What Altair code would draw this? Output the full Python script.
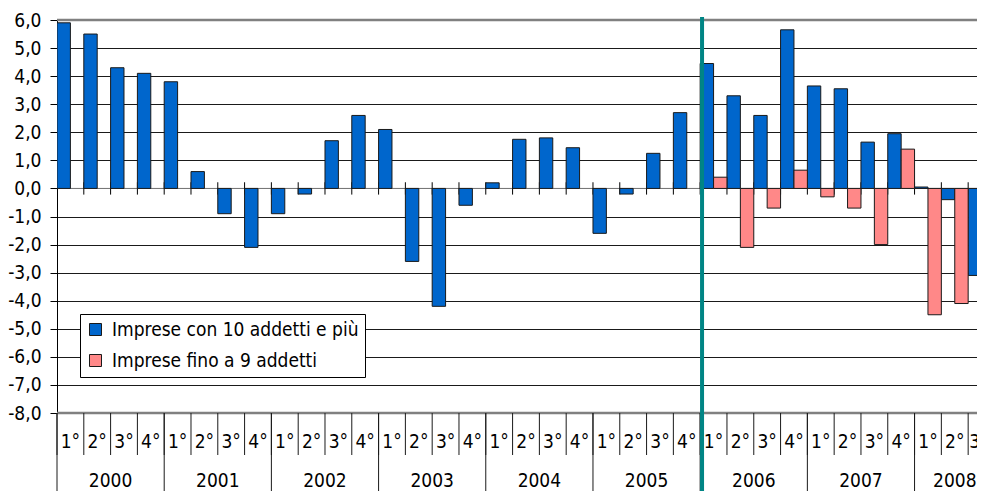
import altair as alt
import pandas as pd

# ---- data ----
years = [2000, 2001, 2002, 2003, 2004, 2005, 2006, 2007, 2008]
quarters_per_year = [4, 4, 4, 4, 4, 4, 4, 4, 3]
quarter_labels = ["1°", "2°", "3°", "4°"]
series_names = ["Imprese con 10 addetti e più", "Imprese fino a 9 addetti"]
series_colors = ["#0066CC", "#FF8888"]

big_firms = [5.9, 5.5, 4.3, 4.1,
             3.8, 0.6, -0.9, -2.1,
             -0.9, -0.2, 1.7, 2.6,
             2.1, -2.6, -4.2, -0.6,
             0.2, 1.75, 1.8, 1.45,
             -1.6, -0.2, 1.25, 2.7,
             4.45, 3.3, 2.6, 5.65,
             3.65, 3.55, 1.65, 1.95,
             0.05, -0.4, -3.1]
small_firms = [None] * 24 + [0.4, -2.1, -0.7, 0.65,
                             -0.3, -0.7, -2.0, 1.4,
                             -4.5, -4.1, -8.0]
y_ticks = list(range(-8, 7))
break_index = 24  # start of 2006

# ---- tables ----
bars = []
for i, v in enumerate(big_firms):
    bars.append({"serie": series_names[0], "x0": i, "x1": i + 0.5, "v": v})
for i, v in enumerate(small_firms):
    if v is not None:
        bars.append({"serie": series_names[1], "x0": i + 0.5, "x1": i + 1, "v": v})
bars = pd.DataFrame(bars)

n_q = sum(quarters_per_year)
q_text_list = [quarter_labels[q] for y, n in zip(years, quarters_per_year) for q in range(n)]
qlab = pd.DataFrame({"x": [i + 0.5 for i in range(n_q - 1)],
                     "t": q_text_list[:-1]})
qlab_last = pd.DataFrame({"x": [n_q - 1], "t": [q_text_list[-1]]})
qsep = pd.DataFrame({"x": list(range(n_q))})
zt = pd.DataFrame({"x": list(range(1, n_q))})
starts, ylab_x = [], []
s = 0
for n in quarters_per_year:
    starts.append(s)
    ylab_x.append(s + n / 2)
    s += n
ysep = pd.DataFrame({"x": starts})
ylab = pd.DataFrame({"x": ylab_x, "t": [str(y) for y in years]})
border = pd.DataFrame({"v": [y_ticks[0], y_ticks[-1]]})
zero = pd.DataFrame({"v": [0]})
brk = pd.DataFrame({"x": [break_index + 0.07]})

W, H = 920, 393
FONT = "DejaVu Sans Condensed"
X = alt.Scale(domain=[0, 34.33], nice=False, zero=False)
Y = alt.Scale(domain=[-8, 6], nice=False, zero=False)

y_axis = alt.Axis(values=y_ticks,
                  labelExpr="(datum.value < 0 ? '-' : '') + replace(format(abs(datum.value), '.1f'), '.', ',')",
                  grid=True, gridColor="#1a1a1a", gridWidth=1,
                  domainColor="black", domainWidth=1,
                  tickColor="black", tickSize=7,
                  labelFont=FONT, labelFontSize=19, labelColor="black",
                  labelPadding=9, title=None)

zero_line = alt.Chart(zero).mark_rule(color="#808080", strokeWidth=1).encode(
    x=alt.value(0), x2=alt.value(W),
    y=alt.Y("v:Q", scale=Y, axis=y_axis))

zero_ticks = alt.Chart(zt).mark_rule(color="black", strokeWidth=1).encode(
    x=alt.X("x:Q", scale=X, axis=None),
    y=alt.YDatum(0.22, scale=Y, axis=y_axis), y2=alt.datum(-0.22))

bar_layer = alt.Chart(bars).mark_bar(stroke="#1a1a1a", strokeWidth=1, clip=True, opacity=1).encode(
    x=alt.X("x0:Q", scale=X, axis=None), x2="x1:Q",
    y=alt.Y("v:Q", scale=Y, axis=y_axis), y2=alt.datum(0),
    color=alt.Color("serie:N",
                    scale=alt.Scale(domain=series_names, range=series_colors),
                    legend=alt.Legend(orient="none", legendX=23, legendY=294, title=None,
                                      symbolType="square", symbolSize=144,
                                      symbolStrokeColor="#1a1a1a", symbolStrokeWidth=1,
                                      labelFont=FONT, labelFontSize=19, labelColor="black",
                                      labelOffset=7, labelLimit=0,
                                      fillColor="white", strokeColor="black",
                                      padding=6, rowPadding=11, symbolOpacity=1)))

border_lines = alt.Chart(border).mark_rule(color="#808080", strokeWidth=2.5).encode(
    x=alt.value(0), x2=alt.value(W + 20),
    y=alt.Y("v:Q", scale=Y, axis=y_axis))

q_sep = alt.Chart(qsep).mark_rule(color="#1a1a1a", strokeWidth=1).encode(
    x=alt.X("x:Q", scale=X, axis=None), y=alt.value(H), y2=alt.value(H + 42))

y_sep = alt.Chart(ysep).mark_rule(color="#1a1a1a", strokeWidth=1).encode(
    x=alt.X("x:Q", scale=X, axis=None), y=alt.value(H), y2=alt.value(H + 90))

q_text = alt.Chart(qlab).mark_text(font=FONT, fontSize=19, color="black", baseline="middle").encode(
    x=alt.X("x:Q", scale=X, axis=None), y=alt.value(H + 29), text="t:N")

q_text_last = alt.Chart(qlab_last).mark_text(font=FONT, fontSize=19, color="black",
                                             baseline="middle", align="left", dx=1).encode(
    x=alt.X("x:Q", scale=X, axis=None), y=alt.value(H + 29), text="t:N")

y_text = alt.Chart(ylab).mark_text(font=FONT, fontSize=19, color="black", baseline="middle").encode(
    x=alt.X("x:Q", scale=X, axis=None), y=alt.value(H + 68), text="t:N")

break_line = alt.Chart(brk).mark_rule(color="#008585", strokeWidth=4).encode(
    x=alt.X("x:Q", scale=X, axis=None), y=alt.value(-3), y2=alt.value(H + 90))

chart = alt.layer(zero_line, zero_ticks, bar_layer, border_lines, q_sep, y_sep,
                  q_text, q_text_last, y_text, break_line).properties(
    width=W, height=H,
    autosize=alt.AutoSizeParams(type="none"),
    padding={"left": 49, "top": 12, "right": 0, "bottom": 78},
).configure_view(stroke=None).configure(background="white")

chart.save("out.html", embed_options={"renderer": "svg", "actions": False})
